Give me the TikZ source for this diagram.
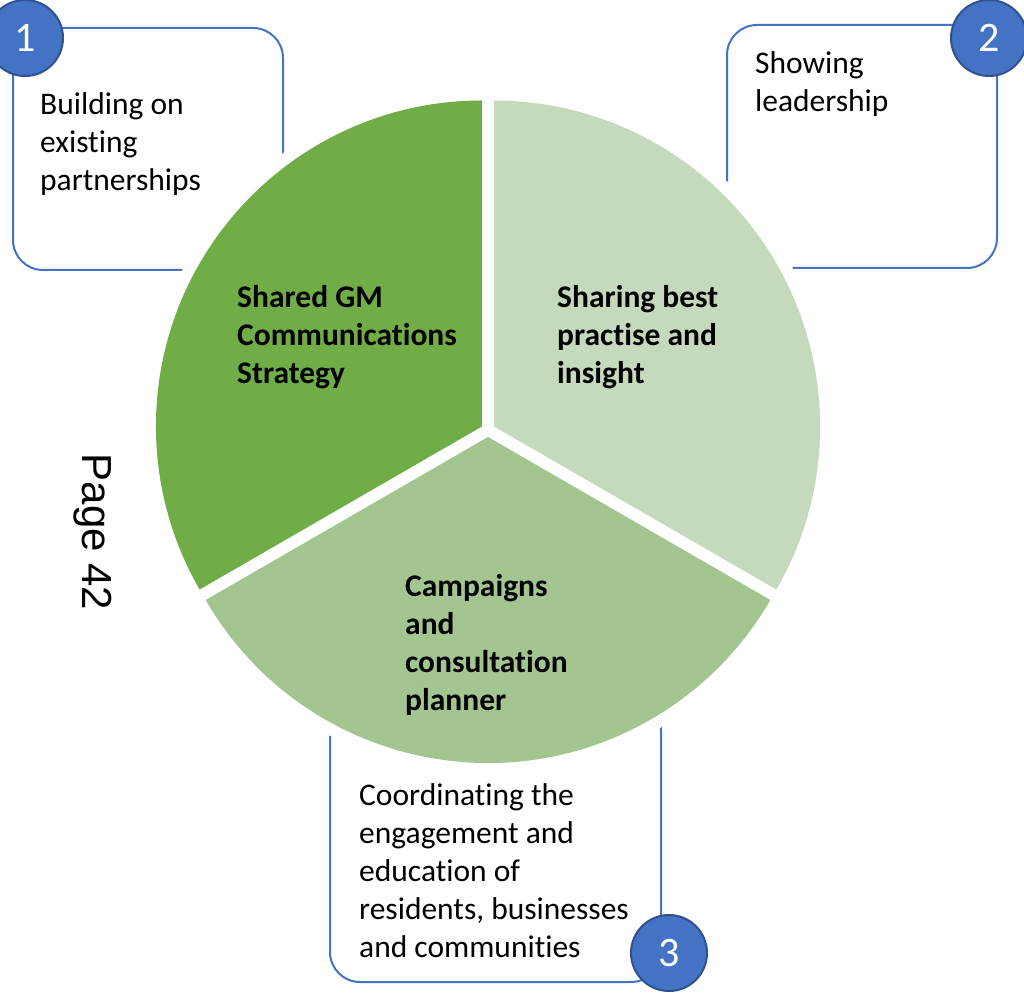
\documentclass[tikz,border=0pt]{standalone}
\usepackage{fontspec}
\setmainfont{Carlito}[Ligatures=NoCommon]
\newfontfamily\pagefont{Liberation Sans}
\usepackage{tikz}
\definecolor{cardblue}{RGB}{68,114,196}
\definecolor{darkblue}{RGB}{47,82,143}
\definecolor{sharedgreen}{RGB}{112,173,71}
\definecolor{insightgreen}{RGB}{197,217,188}
\definecolor{plannergreen}{RGB}{163,198,145}

\begin{document}
\begin{tikzpicture}[x=1pt, y=1pt]
    \tikzstyle{card} = [rectangle, rounded corners=30pt, draw=cardblue, line width=2pt, fill=white, inner sep=0pt]
    \tikzstyle{badge} = [circle, draw=darkblue, line width=2pt, fill=cardblue, minimum size=76pt, inner sep=0pt, text=white, font=\fontsize{42}{48}\selectfont]
    \tikzstyle{cardtext} = [anchor=base west, align=left, inner sep=0pt, font=\fontsize{31.5}{38}\selectfont]
    \tikzstyle{slicetext} = [cardtext, font=\fontsize{31.5}{38}\selectfont\bfseries]

    \useasboundingbox (0,0) rectangle (1024,994);

    % Cards behind the pie
    \node [card, minimum width=270pt, minimum height=242pt] (card_one) at (148,845) {};
    \node [card, minimum width=270pt, minimum height=243pt] (card_two) at (862,847.5) {};
    \node [card, minimum width=331pt, minimum height=282pt] (card_three) at (495.5,153) {};

    % Exploded pie
    \coordinate (hub) at (488,564);
    \foreach \a in {150,30,270}
        \draw [white, line width=24pt, line join=round] (hub) ++(\a:7pt) -- ++(\a-60:326pt) arc [start angle=\a-60, end angle=\a+60, radius=326pt] -- cycle;
    \foreach \a/\col in {150/sharedgreen, 30/insightgreen, 270/plannergreen}
        \fill [\col] (hub) ++(\a:7pt) -- ++(\a-60:326pt) arc [start angle=\a-60, end angle=\a+60, radius=326pt] -- cycle;

    % Slice texts (anchored at the last baseline)
    \node [slicetext] (shared) at (237,610) {Shared GM\\Communications\\Strategy};
    \node [slicetext] (sharing) at (557,610) {Sharing best\\practise and\\insight};
    \node [slicetext] (campaigns) at (405,284) {Campaigns\\and\\consultation\\planner};

    % Card texts
    \node [cardtext] (partners) at (40,803) {Building on\\existing\\partnerships};
    \node [cardtext] (leaders) at (755,882) {Showing\\leadership};
    \node [cardtext] (coordinating) at (359,37) {Coordinating the\\engagement and\\education of\\residents, businesses\\and communities};

    % Number badges
    \node [badge] (badge_one) at (25,956) {1};
    \node [badge] (badge_two) at (989,956) {2};
    \node [badge] (badge_three) at (669,41) {3};

    \node [rotate=-90, font=\pagefont\fontsize{42}{50}\selectfont] (page) at (93,462) {Page 42};
\end{tikzpicture}
\end{document}
